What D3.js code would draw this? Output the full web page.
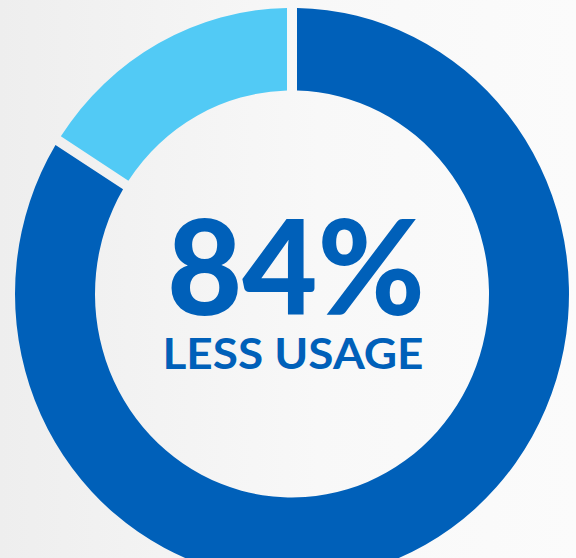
<!DOCTYPE html>
<html>
<head>
<meta charset="utf-8">
<script src="https://cdn.jsdelivr.net/npm/d3@7"></script>
<style>
  html, body { margin: 0; padding: 0; }
  svg { display: block; }
</style>
</head>
<body>
<svg id="chart" width="576" height="558"></svg>
<script>
const labels = ['Less usage', 'Remaining'];
const values = [84, 16];
const colors = ['#0060b9', '#52caf5'];
const bigText = '84%';
const subText = 'LESS USAGE';

const svg = d3.select('#chart');

// soft grey background, lighter on the right
const defs = svg.append('defs');
const grad = defs.append('linearGradient').attr('id', 'bg')
  .attr('x1', '0%').attr('x2', '100%').attr('y1', '0%').attr('y2', '0%');
grad.append('stop').attr('offset', '0%').attr('stop-color', '#eeeeee');
grad.append('stop').attr('offset', '55%').attr('stop-color', '#f8f8f8');
grad.append('stop').attr('offset', '100%').attr('stop-color', '#fbfbfb');
svg.append('rect').attr('width', 576).attr('height', 558).attr('fill', 'url(#bg)');

const cx = 292, cy = 294;
const outer = 277, inner = 197;

const pie = d3.pie().sort(null).value(d => d);
const arc = d3.arc()
  .innerRadius(inner)
  .outerRadius(outer)
  .padRadius(outer)
  .padAngle(10 / outer);

// the picture is slightly taller than wide
const g = svg.append('g').attr('transform', `translate(${cx},${cy}) scale(1,1.033)`);

g.selectAll('path')
  .data(pie(values))
  .join('path')
  .attr('d', arc)
  .attr('fill', (d, i) => colors[i]);

g.append('text')
  .attr('x', 4)
  .attr('y', 20)
  .attr('text-anchor', 'middle')
  .attr('font-family', 'Lato, sans-serif')
  .attr('font-weight', 900)
  .attr('font-size', 128)
  .attr('fill', colors[0])
  .attr('textLength', 258)
  .attr('lengthAdjust', 'spacingAndGlyphs')
  .text(bigText);

g.append('text')
  .attr('x', 1)
  .attr('y', 73)
  .attr('text-anchor', 'middle')
  .attr('font-family', 'Lato, sans-serif')
  .attr('font-weight', 700)
  .attr('font-size', 41)
  .attr('fill', colors[0])
  .attr('textLength', 261)
  .attr('lengthAdjust', 'spacingAndGlyphs')
  .text(subText);
</script>
</body>
</html>
